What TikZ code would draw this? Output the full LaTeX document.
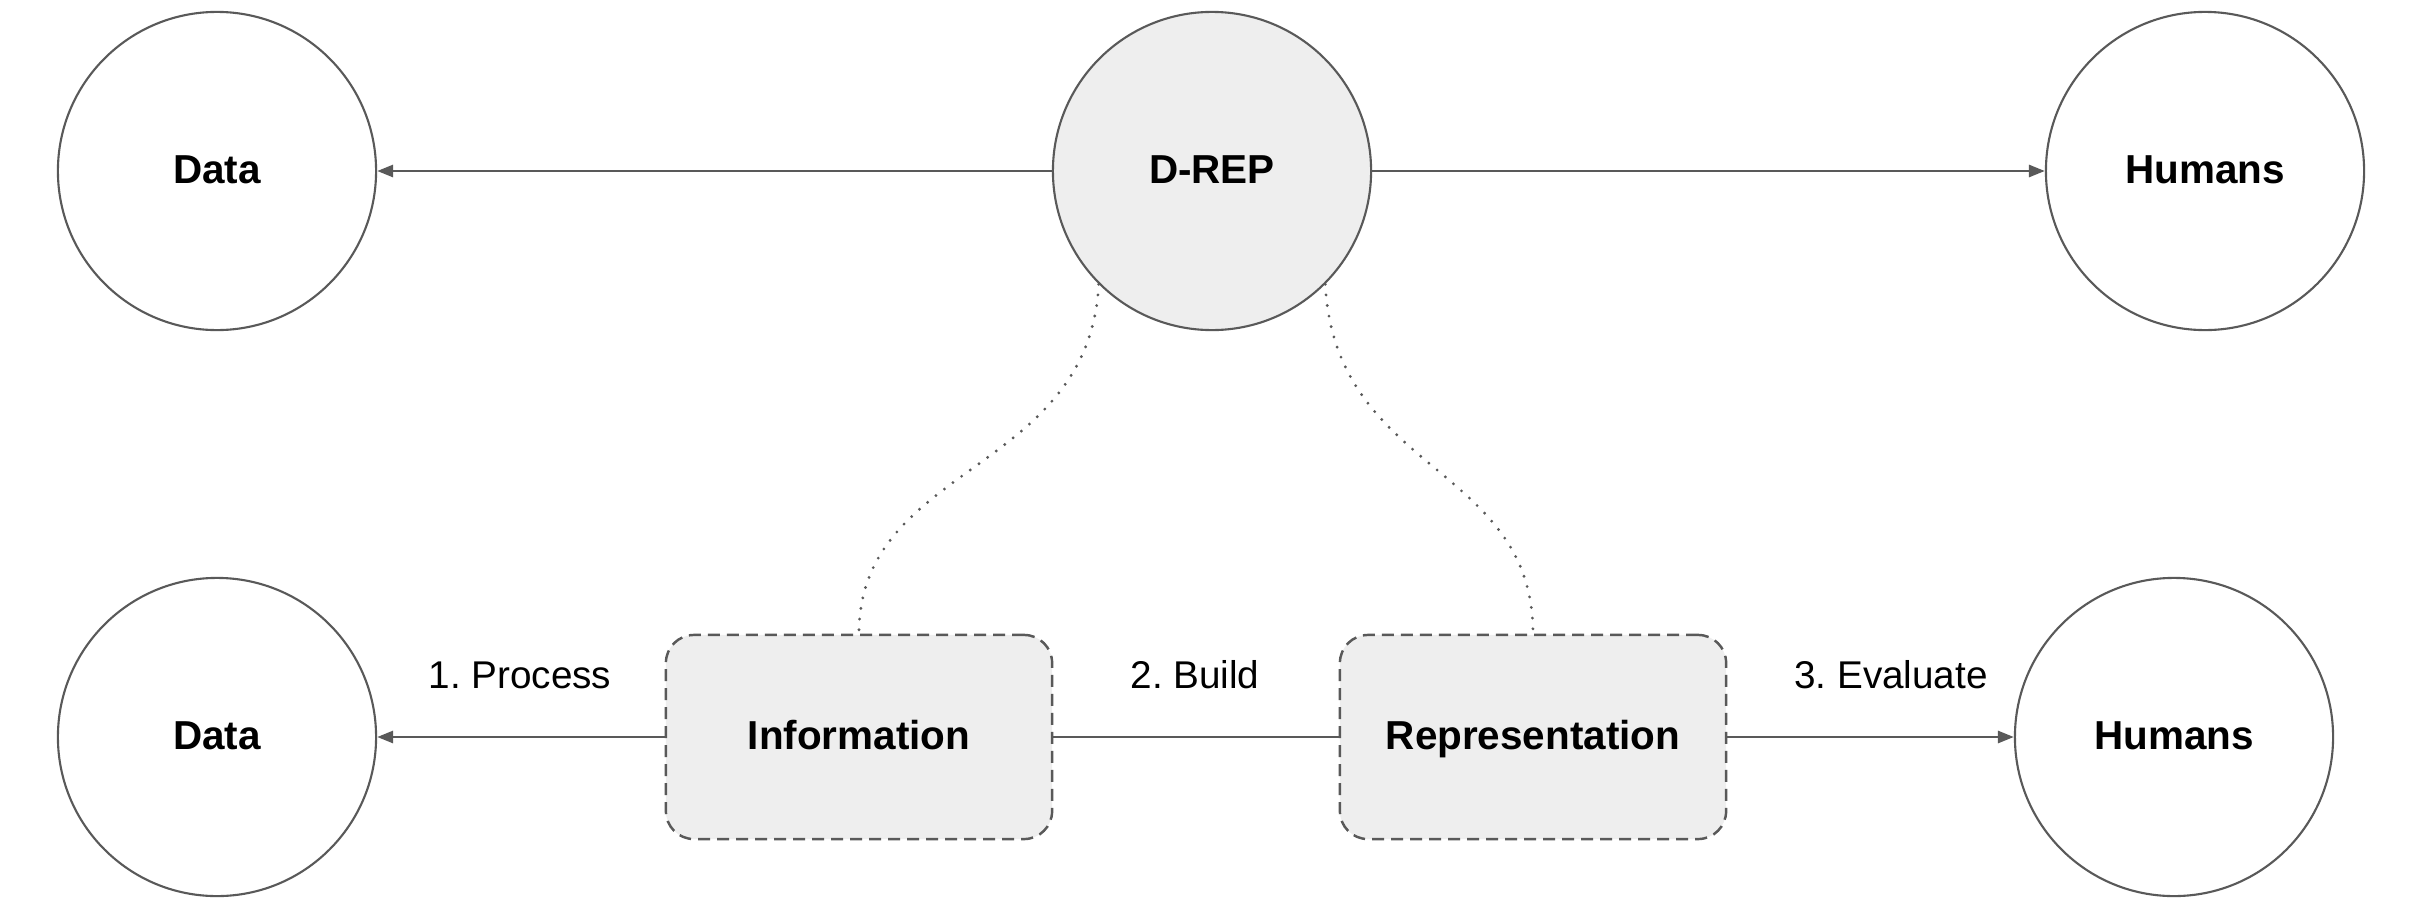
\documentclass[tikz,border=0pt]{standalone}
\usepackage{fontspec}
\setmainfont{Liberation Sans}
\usetikzlibrary{arrows.meta}
\definecolor{strk}{HTML}{595959}
\definecolor{fillg}{HTML}{EEEEEE}
\tikzset{
  ball/.style={circle, draw=strk, line width=0.6pt, minimum size=3.18cm, inner sep=0pt, text height=0.72em, text depth=0pt, font=\fontsize{11.5}{13}\selectfont\bfseries},
  dball/.style={ball, fill=fillg},
  dbox/.style={draw=strk, fill=fillg, line width=0.7pt, rounded corners=0.28cm, dash pattern=on 1.2mm off 0.7mm, minimum width=3.86cm, minimum height=2.04cm, inner sep=0pt, text height=0.72em, text depth=0pt, font=\fontsize{11.5}{13}\selectfont\bfseries},
  lbl/.style={font=\fontsize{11}{13}\selectfont, inner sep=0pt},
  arr/.style={draw=strk, line width=0.8pt, -{Triangle[length=0.16cm,width=0.12cm]}},
  plain/.style={draw=strk, line width=0.8pt},
  dots/.style={draw=strk, line width=0.9pt, line cap=round, dash pattern=on 0pt off 0.107cm},
}
\begin{document}
\frenchspacing
\begin{tikzpicture}[x=0.01cm,y=-0.01cm]
\useasboundingbox (0,0) rectangle (2418,912);
\node[ball]  (data1) at (217,171) {Data};
\node[dball] (drep)  at (1212,171) {D-REP};
\node[ball]  (hum1)  at (2205,171) {Humans};
\node[ball]  (data2) at (217,737) {Data};
\node[dbox]  (info)  at (859,737) {Information};
\node[dbox]  (repr)  at (1533,737) {Representation};
\node[ball]  (hum2)  at (2174,737) {Humans};
\node[lbl] (l1) at (520,675) {1. Process};
\node[lbl] (l2) at (1195,675) {2. Build};
\node[lbl] (l3) at (1891,675) {3. Evaluate};
\draw[arr] (drep) -- (data1);
\draw[arr] (drep) -- (hum1);
\draw[arr] (info) -- (data2);
\draw[plain] (info) -- (repr);
\draw[arr] (repr) -- (hum2);
\draw[dots] (drep.225) .. controls +(-10,190) and +(0,-170) .. (info.north);
\draw[dots] (drep.315) .. controls +(10,190) and +(0,-170) .. (repr.north);
\end{tikzpicture}
\end{document}
